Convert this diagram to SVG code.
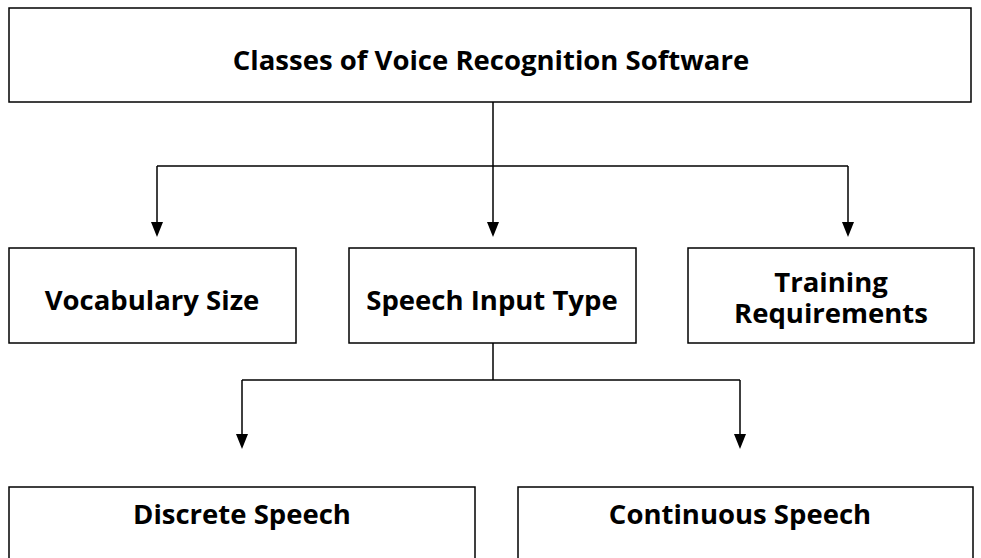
<svg xmlns="http://www.w3.org/2000/svg" width="981" height="558" viewBox="0 0 981 558">
<defs>
<style>
.box{fill:#fff;stroke:#000;stroke-width:1.5}
.t{font-family:"Open Sans","Liberation Sans",sans-serif;font-weight:bold;font-size:27.5px;fill:#000;text-anchor:middle}
.c{fill:none;stroke:#000;stroke-width:1.5}
</style>
</defs>
<rect width="981" height="558" fill="#fff"/>
<g id="connectors">
<path class="c" d="M493,102 V166"/>
<path class="c" d="M157,166 H848"/>
<path class="c" d="M157,166 V224"/>
<path class="c" d="M493,166 V224"/>
<path class="c" d="M848,166 V224"/>
<path d="M151,222 L163,222 L157,237 Z"/>
<path d="M487,222 L499,222 L493,237 Z"/>
<path d="M842,222 L854,222 L848,237 Z"/>
<path class="c" d="M493,343 V380"/>
<path class="c" d="M242,380 H740"/>
<path class="c" d="M242,380 V436"/>
<path class="c" d="M740,380 V436"/>
<path d="M236,434 L248,434 L242,449 Z"/>
<path d="M734,434 L746,434 L740,449 Z"/>
</g>
<g id="root">
<rect class="box" x="9" y="8" width="962" height="94"/>
<text class="t" x="491" y="70">Classes of Voice Recognition Software</text>
</g>
<g id="vocab">
<rect class="box" x="9" y="248" width="287" height="95"/>
<text class="t" x="152" y="310">Vocabulary Size</text>
</g>
<g id="speech">
<rect class="box" x="349" y="248" width="287" height="95"/>
<text class="t" x="492" y="310">Speech Input Type</text>
</g>
<g id="training">
<rect class="box" x="688" y="248" width="286" height="95"/>
<text class="t" x="831" y="292">Training</text>
<text class="t" x="831" y="323">Requirements</text>
</g>
<g id="discrete">
<rect class="box" x="9" y="487" width="466" height="80"/>
<text class="t" x="242" y="524">Discrete Speech</text>
</g>
<g id="continuous">
<rect class="box" x="518" y="487" width="455" height="80"/>
<text class="t" x="740" y="524">Continuous Speech</text>
</g>
</svg>
